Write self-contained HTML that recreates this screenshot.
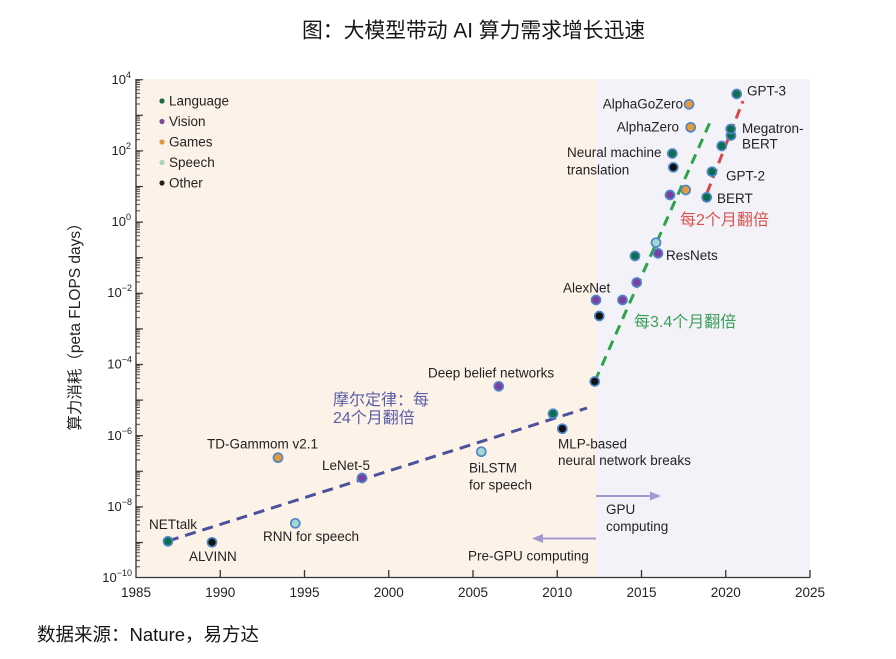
<!DOCTYPE html>
<html><head><meta charset="utf-8"><style>
html,body{margin:0;padding:0;background:#fff;}
svg{display:block;font-family:"Liberation Sans","Noto Sans CJK SC",sans-serif;}
.t{font-size:13.5px;fill:#222;}
</style></head><body>
<svg width="896" height="659" viewBox="0 0 896 659" xmlns="http://www.w3.org/2000/svg">
<defs>
<pattern id="yt" patternUnits="userSpaceOnUse" x="136" y="79.1" width="10" height="35.6">
<rect x="0" y="0" width="7" height="1.2" fill="#333"/>
<rect x="0" y="1.1" width="4" height="1" fill="#444"/>
<rect x="0" y="3" width="4" height="1" fill="#444"/>
<rect x="0" y="5" width="4" height="1" fill="#444"/>
<rect x="0" y="7.4" width="4" height="1" fill="#444"/>
<rect x="0" y="10.2" width="4" height="1" fill="#444"/>
<rect x="0" y="13.7" width="4" height="1" fill="#444"/>
<rect x="0" y="18.1" width="4" height="1" fill="#444"/>
<rect x="0" y="24.4" width="4" height="1" fill="#444"/>
</pattern>
</defs>
<text x="302" y="37.5" style="font-size:20.8px;fill:#151515;">图：大模型带动 AI 算力需求增长迅速</text>

<rect x="136" y="79" width="460" height="498.5" fill="#fdf2e8"/>
<rect x="596" y="79" width="214" height="498.5" fill="#f3f2f8"/>

<!-- axes -->
<rect x="136" y="79.1" width="8" height="498.5" fill="url(#yt)"/>
<line x1="136" y1="79" x2="136" y2="578" stroke="#333" stroke-width="1.3"/>
<line x1="135.5" y1="577.5" x2="810.5" y2="577.5" stroke="#333" stroke-width="1.3"/>
<g stroke="#333" stroke-width="1.3">
<line x1="220.25" y1="577" x2="220.25" y2="570"/>
<line x1="304.5" y1="577" x2="304.5" y2="570"/>
<line x1="388.75" y1="577" x2="388.75" y2="570"/>
<line x1="473" y1="577" x2="473" y2="570"/>
<line x1="557.25" y1="577" x2="557.25" y2="570"/>
<line x1="641.5" y1="577" x2="641.5" y2="570"/>
<line x1="725.75" y1="577" x2="725.75" y2="570"/>
<line x1="810" y1="577" x2="810" y2="570"/>
</g>
<g style="font-size:13.5px;fill:#222;" text-anchor="middle">
<text x="136" y="597">1985</text>
<text x="220.25" y="597">1990</text>
<text x="304.5" y="597">1995</text>
<text x="388.75" y="597">2000</text>
<text x="473" y="597">2005</text>
<text x="557.25" y="597">2010</text>
<text x="641.5" y="597">2015</text>
<text x="725.75" y="597">2020</text>
<text x="810" y="597">2025</text>
</g>
<g style="font-size:13px;fill:#222;" text-anchor="end">
<text x="131" y="84">10<tspan dy="-6" style="font-size:9px">4</tspan></text>
<text x="131" y="155">10<tspan dy="-6" style="font-size:9px">2</tspan></text>
<text x="131" y="226">10<tspan dy="-6" style="font-size:9px">0</tspan></text>
<text x="132" y="297">10<tspan dy="-6" style="font-size:9px">−2</tspan></text>
<text x="132" y="368.5">10<tspan dy="-6" style="font-size:9px">−4</tspan></text>
<text x="132" y="440">10<tspan dy="-6" style="font-size:9px">−6</tspan></text>
<text x="132" y="511">10<tspan dy="-6" style="font-size:9px">−8</tspan></text>
<text x="132" y="582">10<tspan dy="-6" style="font-size:9px">−10</tspan></text>
</g>
<text transform="translate(80,323) rotate(-90)" text-anchor="middle" style="font-size:15.5px;fill:#222;">算力消耗（peta FLOPS days）</text>

<!-- legend -->
<circle cx="162" cy="101" r="2.6" fill="#1a6b48"/>
<circle cx="162" cy="121.5" r="2.6" fill="#7a4a9e"/>
<circle cx="162" cy="142" r="2.6" fill="#e8963c"/>
<circle cx="162" cy="162.5" r="2.6" fill="#a6d4bd"/>
<circle cx="162" cy="183" r="2.6" fill="#222"/>
<text class="t" x="169" y="105.5">Language</text>
<text class="t" x="169" y="126">Vision</text>
<text class="t" x="169" y="146.5">Games</text>
<text class="t" x="169" y="167">Speech</text>
<text class="t" x="169" y="187.5">Other</text>

<!-- trend lines -->
<line x1="168" y1="541" x2="587" y2="408" stroke="#4d509c" stroke-width="3" stroke-dasharray="11 7"/>
<line x1="595" y1="381" x2="711" y2="120" stroke="#2ea34a" stroke-width="3" stroke-dasharray="10 7"/>
<line x1="707" y1="193" x2="743" y2="101" stroke="#d64848" stroke-width="3" stroke-dasharray="10 6"/>

<!-- arrows -->
<line x1="596" y1="496" x2="652" y2="496" stroke="#a596d4" stroke-width="2"/>
<polygon points="661,496 650,491.5 650,500.5" fill="#a596d4"/>
<line x1="596" y1="538.5" x2="541" y2="538.5" stroke="#a596d4" stroke-width="2"/>
<polygon points="532,538.5 543,534 543,543" fill="#a596d4"/>

<!-- points -->
<g stroke="#4f86c6" stroke-width="1.7">
<circle cx="168" cy="541.3" r="4.5" fill="#0d6e4e"/>
<circle cx="212" cy="542.3" r="4.5" fill="#111"/>
<circle cx="295.3" cy="523.3" r="4.5" fill="#a3d8d2"/>
<circle cx="278" cy="457.7" r="4.5" fill="#e8993a"/>
<circle cx="362" cy="478" r="4.5" fill="#7b3fa0"/>
<circle cx="481.3" cy="451.7" r="4.5" fill="#a3d8d2"/>
<circle cx="498.7" cy="386.3" r="4.5" fill="#7b3fa0"/>
<circle cx="553" cy="413.7" r="4.5" fill="#0d6e4e"/>
<circle cx="562.3" cy="428.7" r="4.5" fill="#111"/>
<circle cx="594.7" cy="381.5" r="4.5" fill="#111"/>
<circle cx="596" cy="300" r="4.5" fill="#7b3fa0"/>
<circle cx="599.3" cy="316" r="4.5" fill="#111"/>
<circle cx="622.5" cy="300" r="4.5" fill="#7b3fa0"/>
<circle cx="636.7" cy="282.5" r="4.5" fill="#7b3fa0"/>
<circle cx="635" cy="256" r="4.5" fill="#0d6e4e"/>
<circle cx="658" cy="253.3" r="4.5" fill="#7b3fa0"/>
<circle cx="656" cy="242.7" r="4.5" fill="#a3d8d2"/>
<circle cx="670" cy="195" r="4.5" fill="#7b3fa0"/>
<circle cx="685.7" cy="190" r="4.5" fill="#e8993a"/>
<circle cx="672.3" cy="153.5" r="4.5" fill="#0d6e4e"/>
<circle cx="673.3" cy="167.3" r="4.5" fill="#111"/>
<circle cx="690.7" cy="127.3" r="4.5" fill="#e8993a"/>
<circle cx="689" cy="104.3" r="4.5" fill="#e8993a"/>
<circle cx="706.7" cy="197.3" r="4.5" fill="#0d6e4e"/>
<circle cx="712" cy="171.7" r="4.5" fill="#0d6e4e"/>
<circle cx="721.7" cy="146" r="4.5" fill="#0d6e4e"/>
<circle cx="731" cy="135.5" r="4.5" fill="#0d6e4e"/>
<circle cx="730.7" cy="129" r="4.5" fill="#0d6e4e"/>
<circle cx="736.7" cy="94" r="4.5" fill="#0d6e4e"/>
</g>

<!-- labels -->
<text class="t" x="428" y="377.5">Deep belief networks</text>
<text class="t" x="563" y="292.5">AlexNet</text>
<text class="t" x="558" y="448.5">MLP-based</text>
<text class="t" x="558" y="465">neural network breaks</text>
<text class="t" x="469" y="472.5">BiLSTM</text>
<text class="t" x="469" y="489.5">for speech</text>
<text class="t" x="606" y="514">GPU</text>
<text class="t" x="606" y="531">computing</text>
<text class="t" x="468" y="560.5">Pre-GPU computing</text>
<text class="t" x="207" y="448.5">TD-Gammom v2.1</text>
<text class="t" x="322" y="470">LeNet-5</text>
<text class="t" x="149" y="529">NETtalk</text>
<text class="t" x="189" y="561">ALVINN</text>
<text class="t" x="263" y="541">RNN for speech</text>
<text class="t" x="747" y="95.5">GPT-3</text>
<text class="t" x="683" y="108.5" text-anchor="end">AlphaGoZero</text>
<text class="t" x="679" y="131.5" text-anchor="end">AlphaZero</text>
<text class="t" x="742" y="133">Megatron-</text>
<text class="t" x="742" y="148.5">BERT</text>
<text class="t" x="567" y="157">Neural machine</text>
<text class="t" x="567" y="174.5">translation</text>
<text class="t" x="726" y="180.5">GPT-2</text>
<text class="t" x="717" y="203">BERT</text>
<text class="t" x="666" y="260">ResNets</text>

<text x="333" y="405" style="font-size:16px;fill:#5b5ea6;">摩尔定律：每</text>
<text x="333" y="423" style="font-size:16px;fill:#5b5ea6;">24个月翻倍</text>
<text x="634" y="327" style="font-size:16px;fill:#3a9e5a;">每3.4个月翻倍</text>
<text x="680" y="225" style="font-size:16px;fill:#d9534f;">每2个月翻倍</text>

<text x="37" y="641" style="font-size:18.5px;fill:#151515;">数据来源：Nature，易方达</text>
</svg>
</body></html>
